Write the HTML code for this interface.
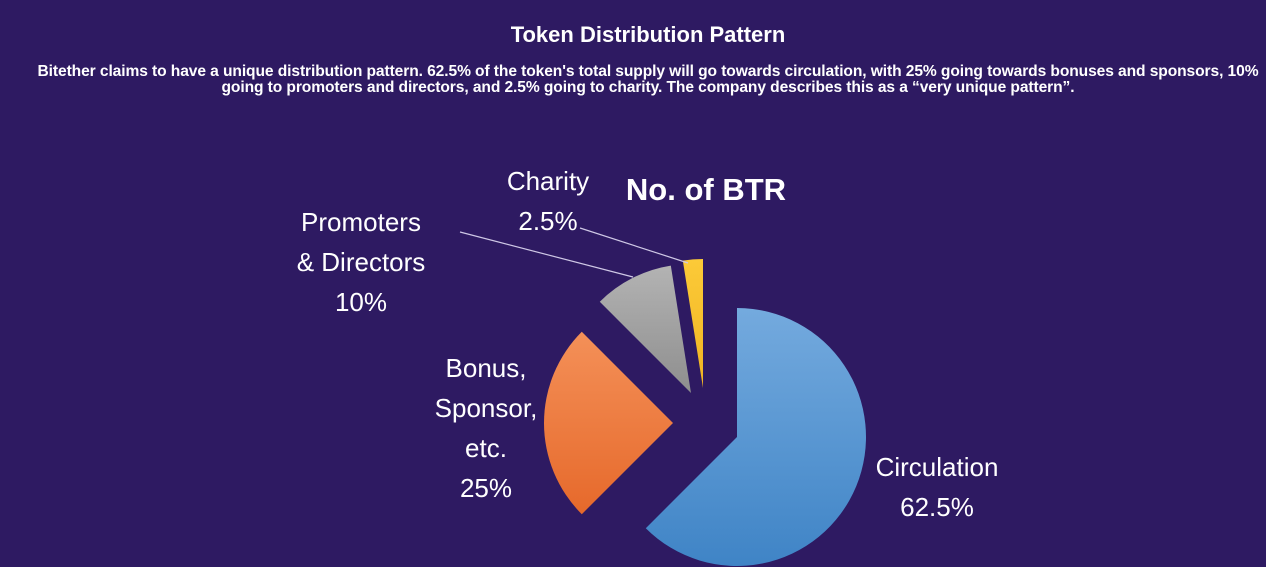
<!DOCTYPE html>
<html><head><meta charset="utf-8"><style>
html,body{margin:0;padding:0;width:1266px;height:567px;overflow:hidden;background:#2e1a62;font-family:"Liberation Sans",sans-serif;}
#title{position:absolute;top:22px;left:0;width:1296px;text-align:center;color:#fff;font-weight:bold;font-size:22px;}
#desc{position:absolute;top:64px;left:0;width:1296px;text-align:center;color:#fff;font-weight:bold;font-size:15.6px;line-height:16px;white-space:nowrap;letter-spacing:-0.1px;}
svg{position:absolute;left:0;top:0;}
</style></head><body>
<div id="title">Token Distribution Pattern</div>
<div id="desc">Bitether claims to have a unique distribution pattern. 62.5% of the token's total supply will go towards circulation, with 25% going towards bonuses and sponsors, 10%<br>going to promoters and directors, and 2.5% going to charity. The company describes this as a “very unique pattern”.</div>
<svg width="1266" height="567">
<defs>
<linearGradient id="g0" x1="0" y1="0" x2="0" y2="1"><stop offset="0" stop-color="#74aade"/><stop offset="1" stop-color="#3f84c6"/></linearGradient>
<linearGradient id="g1" x1="0" y1="0" x2="0" y2="1"><stop offset="0" stop-color="#f49058"/><stop offset="1" stop-color="#e6692b"/></linearGradient>
<linearGradient id="g2" x1="0" y1="0" x2="0" y2="1"><stop offset="0" stop-color="#b3b3b3"/><stop offset="1" stop-color="#8e8e8e"/></linearGradient>
<linearGradient id="g3" x1="0" y1="0" x2="0" y2="1"><stop offset="0" stop-color="#fcca38"/><stop offset="1" stop-color="#f0b423"/></linearGradient>
</defs>
<g id="slices"></g>
<text x="706" y="200" fill="#fff" font-size="31" font-weight="bold" text-anchor="middle">No. of BTR</text>
<line x1="460" y1="232" x2="633" y2="277" stroke="#cfc8e6" stroke-width="1.2"/>
<line x1="580" y1="228" x2="688" y2="263" stroke="#cfc8e6" stroke-width="1.2"/>
<g id="labels" fill="#fff" font-size="26" text-anchor="middle"></g>
</svg>
<script>
const categories=["Circulation","Bonus, Sponsor, etc.","Promoters & Directors","Charity"];
const values=[62.5,25,10,2.5];
const labelLines=[["Circulation","62.5%"],["Bonus,","Sponsor,","etc.","25%"],["Promoters","& Directors","10%"],["Charity","2.5%"]];
const apex=[[737,437],[673,423],[691,393],[703,388]];
const labelPos=[[937,476],[486,377],[361,231],[548,190]];
const R=129;
const total=values.reduce((a,b)=>a+b,0);
const ns="http://www.w3.org/2000/svg";
const sg=document.getElementById('slices'),lg=document.getElementById('labels');
let a=0;
values.forEach((v,i)=>{
  const a0=a,a1=a+v/total*2*Math.PI;a=a1;
  const [cx,cy]=apex[i];
  const x0=cx+R*Math.sin(a0),y0=cy-R*Math.cos(a0),x1=cx+R*Math.sin(a1),y1=cy-R*Math.cos(a1);
  const p=document.createElementNS(ns,'path');
  p.setAttribute('d',`M${cx},${cy}L${x0},${y0}A${R},${R} 0 ${a1-a0>Math.PI?1:0} 1 ${x1},${y1}Z`);
  p.setAttribute('fill',`url(#g${i})`);
  
  
  sg.appendChild(p);
  const t=document.createElementNS(ns,'text');
  
  
  labelLines[i].forEach((s,j)=>{const ts=document.createElementNS(ns,'tspan');ts.setAttribute('x',labelPos[i][0]);ts.setAttribute('y',labelPos[i][1]+j*40);ts.textContent=s;t.appendChild(ts);});
  lg.appendChild(t);
});
</script>
</body></html>
